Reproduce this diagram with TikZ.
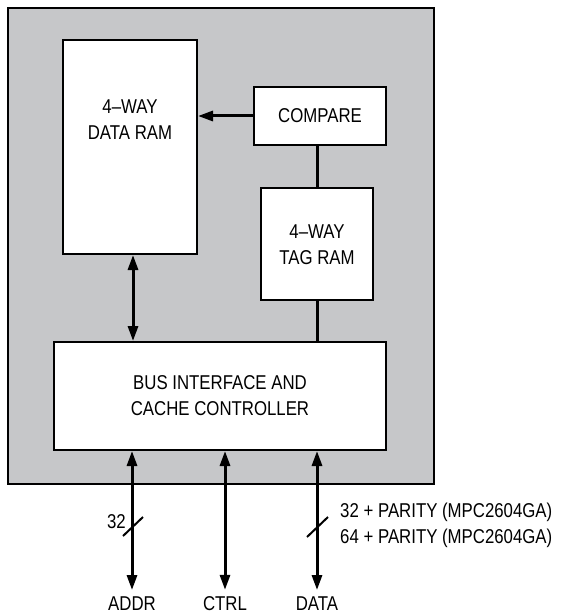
\documentclass[tikz,border=0pt]{standalone}
\usepackage{fontspec}
\setmainfont[FakeStretch=0.84]{Liberation Sans}
\usetikzlibrary{arrows.meta,calc}
\definecolor{chipgray}{RGB}{198,199,201}
\tikzset{
  box/.style={draw=black, line width=2pt, fill=white, inner sep=0pt},
  txt/.style={font=\fontsize{20}{26}\selectfont, align=center, inner sep=0pt},
  wire/.style={line width=3pt},
  dbl/.style={line width=3pt, {Triangle[length=15pt,width=10pt]}-{Triangle[length=15pt,width=10pt]}},
  sgl/.style={line width=3pt, -{Triangle[length=15pt,width=10pt]}},
  slashmark/.style={line width=2pt}
}
\begin{document}
\begin{tikzpicture}[x=1pt,y=-1pt]
\useasboundingbox (0,0) rectangle (563,615);
% outer chip
\node[draw=black, line width=2pt, fill=chipgray, minimum width=426pt, minimum height=476pt, inner sep=0pt] (chip) at (221,246) {};
% blocks
\node[box, minimum width=134pt, minimum height=214pt] (ram) at (130,147) {};
\node[txt] (ramtxt) at (130,120) {4–WAY\\DATA RAM};
\node[box, minimum width=132pt, minimum height=58pt] (cmp) at (320,116) {};
\node[txt] (cmptxt) at (320,116) {COMPARE};
\node[box, minimum width=112pt, minimum height=112pt] (tag) at (317,244) {};
\node[txt] (tagtxt) at (317,245) {4–WAY\\TAG RAM};
\node[box, minimum width=332pt, minimum height=108pt] (bus) at (220,396) {};
\node[txt] (bustxt) at (220,396) {BUS INTERFACE AND\\CACHE CONTROLLER};
% internal connections
\draw[sgl] (cmp.west) -- (ram.east |- cmp.west);
\draw[wire] (cmp.south -| tag.north) -- (tag.north);
\draw[wire] (tag.south) -- (bus.north -| tag.south);
\draw[dbl] (ram.south -| 133,0) -- (bus.north -| 133,0);
% external pins
\node[txt, anchor=base] (addr) at (132,610) {ADDR};
\node[txt, anchor=base] (ctrl) at (225,610) {CTRL};
\node[txt, anchor=base] (data) at (317,610) {DATA};
\draw[dbl, shorten >=6pt] (bus.south -| addr.north) -- (addr.north);
\draw[dbl, shorten >=6pt] (bus.south -| ctrl.north) -- (ctrl.north);
\draw[dbl, shorten >=6pt] (bus.south -| data.north) -- (data.north);
% bus width marks
\coordinate (sa1) at (123,536);
\coordinate (sa2) at (143,517);
\draw[slashmark] (sa1) -- (sa2);
\coordinate (sd1) at (307,537);
\coordinate (sd2) at (328,517);
\draw[slashmark] (sd1) -- (sd2);
\node[txt, anchor=east] (w32) at (126,522) {32};
\node[txt, anchor=west, align=left] (wdata) at (340,525) {32 + PARITY (MPC2604GA)\\64 + PARITY (MPC2604GA)};
\end{tikzpicture}
\end{document}
